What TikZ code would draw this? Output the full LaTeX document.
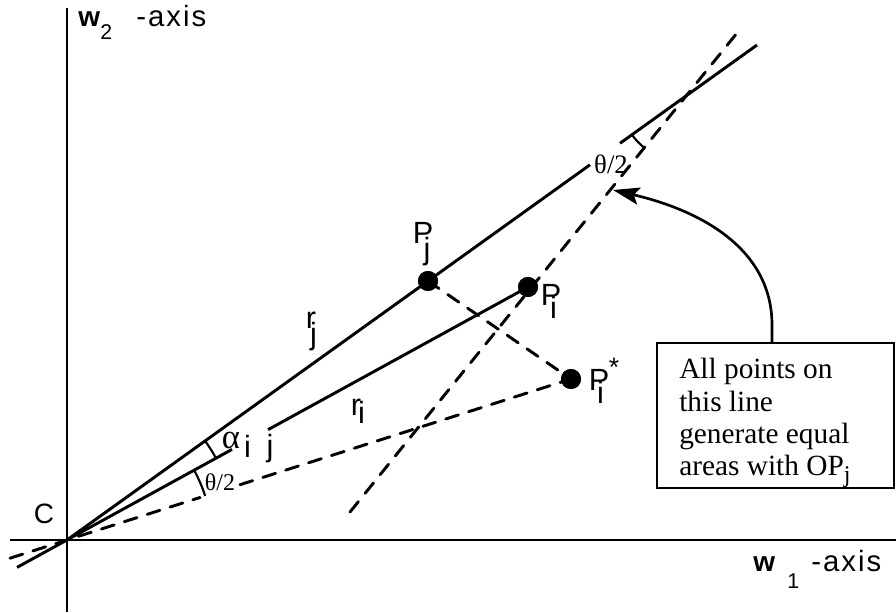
\documentclass[tikz,border=0pt]{standalone}
\usepackage{fontspec}
\setmainfont{Liberation Serif}
\setsansfont{Liberation Sans}
\newfontfamily\axisfont[LetterSpace=7]{Liberation Sans}
\usetikzlibrary{arrows.meta}
\begin{document}
\begin{tikzpicture}[x=0.75pt,y=0.75pt,
  ln/.style={line width=2.2pt},
  dsh/.style={line width=2.2pt, dash pattern=on 10pt off 8pt, line cap=round},
  ang/.style={line width=1.6pt},
  lbl/.style={font=\sffamily\fontsize{23}{27}\selectfont, inner sep=0pt},
  axw/.style={font=\sffamily\bfseries\fontsize{21}{24}\selectfont, inner sep=0pt, anchor=base west},
  axs/.style={font=\sffamily\fontsize{16}{18}\selectfont, inner sep=0pt, anchor=base west},
  axt/.style={font=\axisfont\fontsize{22}{26}\selectfont, inner sep=0pt, anchor=base west},
  ser/.style={font=\rmfamily\fontsize{#1}{#1}\selectfont, inner sep=0pt},
  dotn/.style={circle, fill=black, minimum size=15pt, inner sep=0pt},
  boxtext/.style={font=\rmfamily\fontsize{22}{24.3}\selectfont, inner sep=0pt, align=left, anchor=north west}
]
\useasboundingbox (0,0) rectangle (896,612);

% key points
\coordinate (O) at (67,72);
\coordinate (ytop) at (67,604);
\coordinate (ybot) at (67,0);
\coordinate (xl) at (10,72);
\coordinate (xr) at (896,72);
\coordinate (E1) at (757,567);
\coordinate (G1a) at (590,447.2);
\coordinate (G1b) at (620,468.7);
\coordinate (Piext) at (17,44.6);
\coordinate (A1) at (232,162.6);
\coordinate (A2) at (268,182.3);
\coordinate (Dext) at (10,53.8);
\coordinate (D1) at (200,114.5);
\coordinate (D2) at (240,127.3);
\coordinate (L1) at (350,100);
\coordinate (L2) at (737,579);
\coordinate (V) at (686.4,516.3);

% axes
\draw[ln] (ybot) -- (ytop);
\draw[ln] (xl) -- (xr);

% points
\node[dotn] (Pj) at (428,331) {};
\node[dotn] (Pi) at (528,325) {};
\node[dotn] (Pis) at (571,233) {};

% solid rays
\draw[ln] (O) -- (G1a);
\draw[ln] (G1b) -- (E1);
\draw[ln] (Piext) -- (A1);
\draw[ln] (A2) -- (Pi.center);

% dashed lines
\draw[dsh] (Dext) -- (D1);
\draw[dsh] (D2) -- (Pis.center);
\draw[dsh] (L1) -- (L2);
\draw[dsh] (Pj.center) -- (Pis.center);

% redraw dots on top
\fill (Pj) circle[radius=7.5pt];
\fill (Pi) circle[radius=7.5pt];
\fill (Pis) circle[radius=7.5pt];

% angle arcs
\draw[ang] (O) ++(35.66:170) arc[start angle=35.66, end angle=28.76, radius=170];
\draw[ang] (O) ++(28.76:145) arc[start angle=28.76, end angle=17.71, radius=145];
\draw[ang] (V) ++(215.66:67) arc[start angle=215.66, end angle=231.07, radius=67];

% labels
\node[lbl, font=\sffamily\fontsize{21}{24}\selectfont] (Clbl) at (44,98) {C};

\node[axw] (w2w) at (78,585) {w};
\node[axs] (w2s) at (100,572) {2};
\node[axt] (w2t) at (136,585) {-axis};

\node[axw] (w1w) at (753,41) {w};
\node[axs] (w1s) at (787,24) {1};
\node[axt] (w1t) at (811,41) {-axis};

\node[lbl, anchor=base] (PjP) at (423,369) {P};
\node[lbl, anchor=base] (Pjs) at (427,353) {j};
\node[lbl, anchor=base] (PiP) at (551,307) {P};
\node[lbl, anchor=base] (Pis1) at (553.5,294) {i};
\node[lbl, anchor=base] (PsP) at (599,222) {P};
\node[lbl, anchor=base, font=\sffamily\fontsize{20}{24}\selectfont] (Pst) at (614,236) {*};
\node[lbl, anchor=base] (Pss) at (600.5,209) {i};

\node[lbl, anchor=base] (rj) at (311,284) {r};
\node[lbl, anchor=base] (rjs) at (313.5,268) {j};
\node[lbl, anchor=base] (ri) at (356,197) {r};
\node[lbl, anchor=base] (ris) at (361.5,189) {i};

\node[ser=26, anchor=base] (al) at (231,164) {α};
\node[lbl, anchor=base] (als) at (247.5,155) {i};
\node[lbl, anchor=base] (alj) at (270,156) {j};

\node[ser=18] (th1) at (220,130) {θ/2};
\node[ser=20] (th2) at (611,448) {θ/2};

% annotation box
\node[draw, line width=1.6pt, anchor=north west, minimum width=177.75pt, minimum height=108.75pt, inner sep=0pt] (box) at (656,270) {};
\node[boxtext] (boxtxt) at (679,254) {All points on\\this line\\generate equal\\areas with OP\raisebox{-0.22em}{\fontsize{18}{18}\selectfont j}};

\path (box.north west) ++(116,0) coordinate (as);
\draw[line width=2pt, -{Stealth[length=20pt,width=13pt,inset=4pt]}] (as) -- ++(0,17) .. controls (772,362) and (703,401) .. (613,422);
\end{tikzpicture}
\end{document}
